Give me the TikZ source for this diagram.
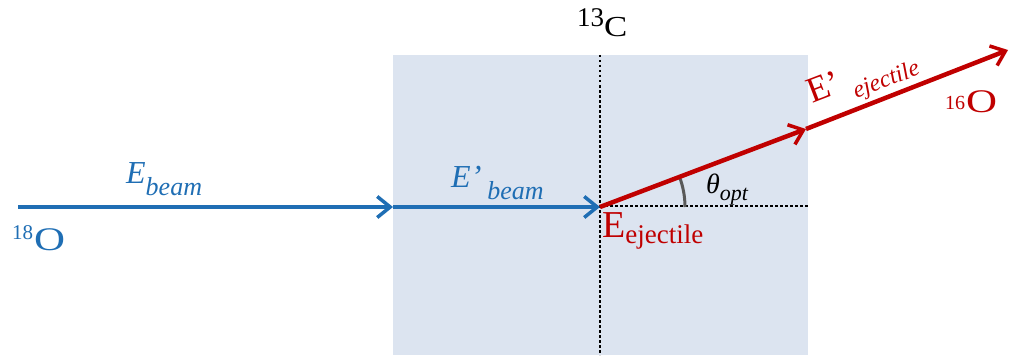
\documentclass[tikz,border=0pt]{standalone}
\usepackage{fontspec}
\setmainfont{Liberation Serif}
\newfontfamily\tnr{Liberation Serif}
\usetikzlibrary{arrows.meta}
\definecolor{bbl}{RGB}{31,110,180}
\definecolor{rrd}{RGB}{192,0,0}
\definecolor{tgtfill}{RGB}{220,228,240}
\newcommand\fsz[1]{\fontsize{#1}{#1}\selectfont}
\newcommand\wide[2]{\scalebox{#1}[1]{#2}}
\tikzset{
  beam/.style={draw=bbl,line width=4.5pt,-{Straight Barb[length=13pt,width=21pt,line width=3.5pt]}},
  eject/.style={draw=rrd,line width=4.5pt,-{Straight Barb[length=13pt,width=21pt,line width=3.5pt]}},
  dots/.style={draw=black,line width=2.5pt,dash pattern=on 2.5pt off 2.5pt},
  lbl/.style={inner sep=0pt,anchor=base west,font=\tnr},
}
\begin{document}
\begin{tikzpicture}[x=1pt,y=-1pt]
\useasboundingbox (0,0) rectangle (1012,361);
\fill[tgtfill] (393,55) rectangle (808,355);
\draw[dots] (600,55) -- (600,355);
\draw[dots] (600,206) -- (808,206);
\coordinate (start) at (18,207);
\coordinate (entry) at (393,207);
\coordinate (vertex) at (600,207);
\coordinate (exit) at (806,129);
\coordinate (tip) at (1008,50);
\draw[beam] (start) -- (entry);
\draw[beam] (entry) -- (vertex);
\draw[gray!70!black,line width=3pt] (vertex) ++(85,0) arc[start angle=0,end angle=-21,radius=85];
\draw[eject] (vertex) -- (exit);
\draw[eject] (exit) -- (tip);
\node[lbl,text=bbl] (lEb) at (126,183) {\fsz{32}\textit{E}\raisebox{-12pt}{\fsz{26}\textit{beam}}};
\node[lbl,text=bbl] (lO18) at (12,250) {\raisebox{11pt}{\fsz{21}18}\hspace{1pt}\fsz{33}\wide{1.3}{O}};
\node[lbl,text=bbl] (lEpb) at (451,187) {\fsz{32}\textit{E’}\hspace{6pt}\raisebox{-12pt}{\fsz{26}\textit{beam}}};
\node[lbl,text=black] (lC13) at (577,37) {\raisebox{10pt}{\fsz{27}13}\fsz{29}\wide{1.2}{C}};
\node[lbl,text=black] (lth) at (706,193) {\fsz{28}\textit{θ}\raisebox{-7pt}{\fsz{22}\textit{opt}}};
\node[lbl,text=rrd] (lEej) at (602,237) {\fsz{38}E\raisebox{-6pt}{\fsz{27}ejectile}};
\node[lbl,text=rrd,rotate=21] (lEpej) at (812,104) {\fsz{36}E’\hspace{9pt}\raisebox{-11pt}{\fsz{24}\textit{ejectile}}};
\node[lbl,text=rrd] (lO16) at (945,112) {\raisebox{3pt}{\fsz{20}16}\hspace{1pt}\fsz{33}\wide{1.3}{O}};
\end{tikzpicture}
\end{document}
